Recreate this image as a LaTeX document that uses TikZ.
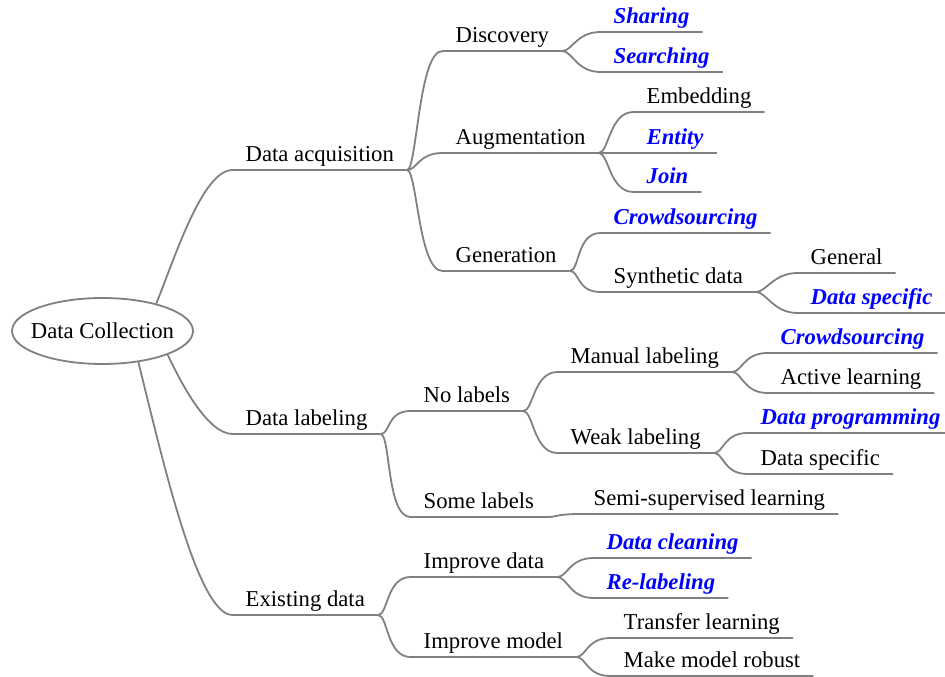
\documentclass[tikz,border=0pt]{standalone}
\usepackage{fontspec}
\setmainfont{Liberation Serif}
\usetikzlibrary{positioning, shapes.geometric}
\definecolor{linegray}{RGB}{128,128,128}
\definecolor{hotblue}{RGB}{0,0,255}
\tikzset{
  topic/.style={anchor=south west, inner xsep=13pt, inner ysep=0pt, text height=17pt, text depth=8pt, font=\fontsize{22.7}{27}\selectfont},
  hot/.style={topic, text=hotblue, font=\fontsize{22.7}{27}\selectfont\bfseries\itshape},
  branch/.style={draw=linegray, line width=1.8pt},
  twig/.style={out=0, in=180, out distance=10pt, in distance=24pt}
}

\begin{document}
\begin{tikzpicture}[x=1pt, y=1pt]
  \useasboundingbox (-102.5,-346) rectangle (842.5,331);
  \node[draw=linegray, line width=1.8pt, ellipse, minimum width=181pt, minimum height=66pt, inner xsep=-10pt, inner ysep=0pt, font=\fontsize{22.7}{27}\selectfont] (Root) at (0,0) {Data Collection};

  \node[above right=161pt and 130pt of Root.center, topic] (Acq) {Data acquisition};
  \node[below right=103pt and 130pt of Root.center, topic] (Lab) {Data labeling};
  \node[below right=284pt and 130pt of Root.center, topic] (Exist) {Existing data};

  \node[above right=119pt and 210pt of Acq.south west, topic] (Disc) {Discovery};
  \node[above right=17pt and 210pt of Acq.south west, topic] (Aug) {Augmentation};
  \node[below right=101pt and 210pt of Acq.south west, topic] (Gen) {Generation};
  \node[above right=19pt and 158pt of Disc.south west, hot] (Share) {Sharing};
  \node[below right=21pt and 158pt of Disc.south west, hot] (Search) {Searching};
  \node[above right=41pt and 191pt of Aug.south west, topic] (Embed) {Embedding};
  \node[above right=0pt and 191pt of Aug.south west, hot] (Entity) {Entity};
  \node[below right=39pt and 191pt of Aug.south west, hot] (Join) {Join};
  \node[above right=38pt and 158pt of Gen.south west, hot] (CrowdGen) {Crowdsourcing};
  \node[below right=21pt and 158pt of Gen.south west, topic] (Synth) {Synthetic data};
  \node[above right=19pt and 197pt of Synth.south west, topic] (General) {General};
  \node[below right=21pt and 197pt of Synth.south west, hot] (SpecSynth) {Data specific};

  \node[above right=23pt and 178pt of Lab.south west, topic] (NoLab) {No labels};
  \node[below right=83pt and 178pt of Lab.south west, topic] (SomeLab) {Some labels};
  \node[above right=39pt and 147pt of NoLab.south west, topic] (Manual) {Manual labeling};
  \node[below right=42pt and 147pt of NoLab.south west, topic] (Weak) {Weak labeling};
  \node[above right=19pt and 210pt of Manual.south west, hot] (CrowdLab) {Crowdsourcing};
  \node[below right=21pt and 210pt of Manual.south west, topic] (Active) {Active learning};
  \node[above right=20pt and 190pt of Weak.south west, hot] (Prog) {Data programming};
  \node[below right=21pt and 190pt of Weak.south west, topic] (SpecWeak) {Data specific};
  \node[above right=3pt and 170pt of SomeLab.south west, topic] (Semi) {Semi-supervised learning};

  \node[above right=38pt and 178pt of Exist.south west, topic] (ImpData) {Improve data};
  \node[below right=42pt and 178pt of Exist.south west, topic] (ImpModel) {Improve model};
  \node[above right=19pt and 183pt of ImpData.south west, hot] (Clean) {Data cleaning};
  \node[below right=21pt and 183pt of ImpData.south west, hot] (Relab) {Re-labeling};
  \node[above right=19pt and 200pt of ImpModel.south west, topic] (Transfer) {Transfer learning};
  \node[below right=19pt and 200pt of ImpModel.south west, topic] (Robust) {Make model robust};

  \draw[branch] (Root.27) to[out=68, in=180, out distance=50pt, in distance=30pt] (Acq.south west) -- (Acq.south east);
  \draw[branch] (Root.-20) to[out=-65, in=180, out distance=30pt, in distance=25pt] (Lab.south west) -- (Lab.south east);
  \draw[branch] (Root.-41) to[out=-76, in=180, out distance=100pt, in distance=35pt] (Exist.south west) -- (Exist.south east);

  \draw[branch] (Acq.south east) to[twig] (Disc.south west) -- (Disc.south east);
  \draw[branch] (Acq.south east) to[twig] (Aug.south west) -- (Aug.south east);
  \draw[branch] (Acq.south east) to[twig] (Gen.south west) -- (Gen.south east);
  \draw[branch] (Disc.south east) to[twig] (Share.south west) -- (Share.south east);
  \draw[branch] (Disc.south east) to[twig] (Search.south west) -- (Search.south east);
  \draw[branch] (Aug.south east) to[twig] (Embed.south west) -- (Embed.south east);
  \draw[branch] (Aug.south east) to[twig] (Entity.south west) -- (Entity.south east);
  \draw[branch] (Aug.south east) to[twig] (Join.south west) -- (Join.south east);
  \draw[branch] (Gen.south east) to[twig] (CrowdGen.south west) -- (CrowdGen.south east);
  \draw[branch] (Gen.south east) to[twig] (Synth.south west) -- (Synth.south east);
  \draw[branch] (Synth.south east) to[twig] (General.south west) -- (General.south east);
  \draw[branch] (Synth.south east) to[twig] (SpecSynth.south west) -- (SpecSynth.south east);

  \draw[branch] (Lab.south east) to[twig] (NoLab.south west) -- (NoLab.south east);
  \draw[branch] (Lab.south east) to[twig] (SomeLab.south west) -- (SomeLab.south east);
  \draw[branch] (NoLab.south east) to[twig] (Manual.south west) -- (Manual.south east);
  \draw[branch] (NoLab.south east) to[twig] (Weak.south west) -- (Weak.south east);
  \draw[branch] (Manual.south east) to[twig] (CrowdLab.south west) -- (CrowdLab.south east);
  \draw[branch] (Manual.south east) to[twig] (Active.south west) -- (Active.south east);
  \draw[branch] (Weak.south east) to[twig] (Prog.south west) -- (Prog.south east);
  \draw[branch] (Weak.south east) to[twig] (SpecWeak.south west) -- (SpecWeak.south east);
  \draw[branch] (SomeLab.south east) to[twig] (Semi.south west) -- (Semi.south east);

  \draw[branch] (Exist.south east) to[twig] (ImpData.south west) -- (ImpData.south east);
  \draw[branch] (Exist.south east) to[twig] (ImpModel.south west) -- (ImpModel.south east);
  \draw[branch] (ImpData.south east) to[twig] (Clean.south west) -- (Clean.south east);
  \draw[branch] (ImpData.south east) to[twig] (Relab.south west) -- (Relab.south east);
  \draw[branch] (ImpModel.south east) to[twig] (Transfer.south west) -- (Transfer.south east);
  \draw[branch] (ImpModel.south east) to[twig] (Robust.south west) -- (Robust.south east);
\end{tikzpicture}
\end{document}
